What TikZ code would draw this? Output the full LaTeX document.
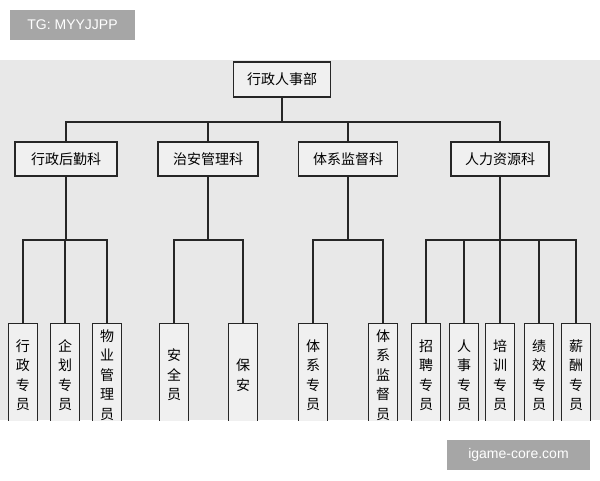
\documentclass[tikz,border=0pt]{standalone}
\usepackage{fontspec}
\newfontfamily\cjk{Noto Sans CJK SC}
\newfontfamily\wm{Liberation Sans}
\begin{document}
\begin{tikzpicture}[x=1pt,y=-1pt,
  box/.style={draw=black!85,line width=1.3pt,fill=black!6,font=\cjk\fontsize{14}{16}\selectfont,inner sep=0pt},
  leaftxt/.style={font=\cjk\fontsize{14}{19.5}\selectfont,align=center,inner sep=0pt},
  ln/.style={line width=1.3pt,draw=black!85},
  wmbox/.style={fill=black!35,text=white,font=\wm\fontsize{14}{16}\selectfont,inner sep=0pt}]
\useasboundingbox (0,0) rectangle (600,480);
\fill[white] (0,0) rectangle (600,480);
\fill[black!9] (0,60) rectangle (600,420);
\node[box,minimum width=97,minimum height=35] (top) at (282,79.5) {行政人事部};
\coordinate (hb) at (282,122);
\node[box,minimum width=102,minimum height=34] (a) at (66,159) {行政后勤科};
\node[box,minimum width=100,minimum height=34] (b) at (208,159) {治安管理科};
\node[box,minimum width=99,minimum height=34] (c) at (348,159) {体系监督科};
\node[box,minimum width=98,minimum height=34] (d) at (500,159) {人力资源科};
\draw[ln] (top.south) -- (hb);
\draw[ln] (a.north) |- (hb) -| (d.north);
\draw[ln] (b.north) -- (b.north|-hb);
\draw[ln] (c.north) -- (c.north|-hb);
\begin{scope}
\clip (0,60) rectangle (600,420);
\foreach \n/\x/\t in {l1/23/{行\\政\\专\\员},l2/65/{企\\划\\专\\员},l3/107/{物\\业\\管\\理\\员},
  l4/174/{安\\全\\员},l5/243/{保\\安},l6/313/{体\\系\\专\\员},l7/383/{体\\系\\监\\督\\员},
  l8/426/{招\\聘\\专\\员},l9/464/{人\\事\\专\\员},l10/500/{培\\训\\专\\员},l11/539/{绩\\效\\专\\员},l12/576/{薪\\酬\\专\\员}}{
  \node[box,minimum width=29,minimum height=120,anchor=north] (\n) at (\x,323) {};
  \node[leaftxt] at (\x,375) {\t};
}
\end{scope}
\draw[ln] (a.south) -- (a.south|-0,240) coordinate (ja);
\draw[ln] (b.south) -- (b.south|-0,240) coordinate (jb);
\draw[ln] (c.south) -- (c.south|-0,240) coordinate (jc);
\draw[ln] (d.south) -- (d.south|-0,240) coordinate (jd);
\draw[ln] (l1.north) |- (ja) -| (l3.north);
\draw[ln] (l2.north) -- (l2.north|-ja);
\draw[ln] (l4.north) |- (jb) -| (l5.north);
\draw[ln] (l6.north) |- (jc) -| (l7.north);
\draw[ln] (l8.north) |- (jd) -| (l12.north);
\foreach \n in {l9,l10,l11}{\draw[ln] (\n.north) -- (\n.north|-jd);}
\node[wmbox,minimum width=125,minimum height=30] (w1) at (72.5,25) {TG: MYYJJPP};
\node[wmbox,minimum width=143,minimum height=30] (w2) at (518.5,455) {igame-core.com};
\end{tikzpicture}
\end{document}
